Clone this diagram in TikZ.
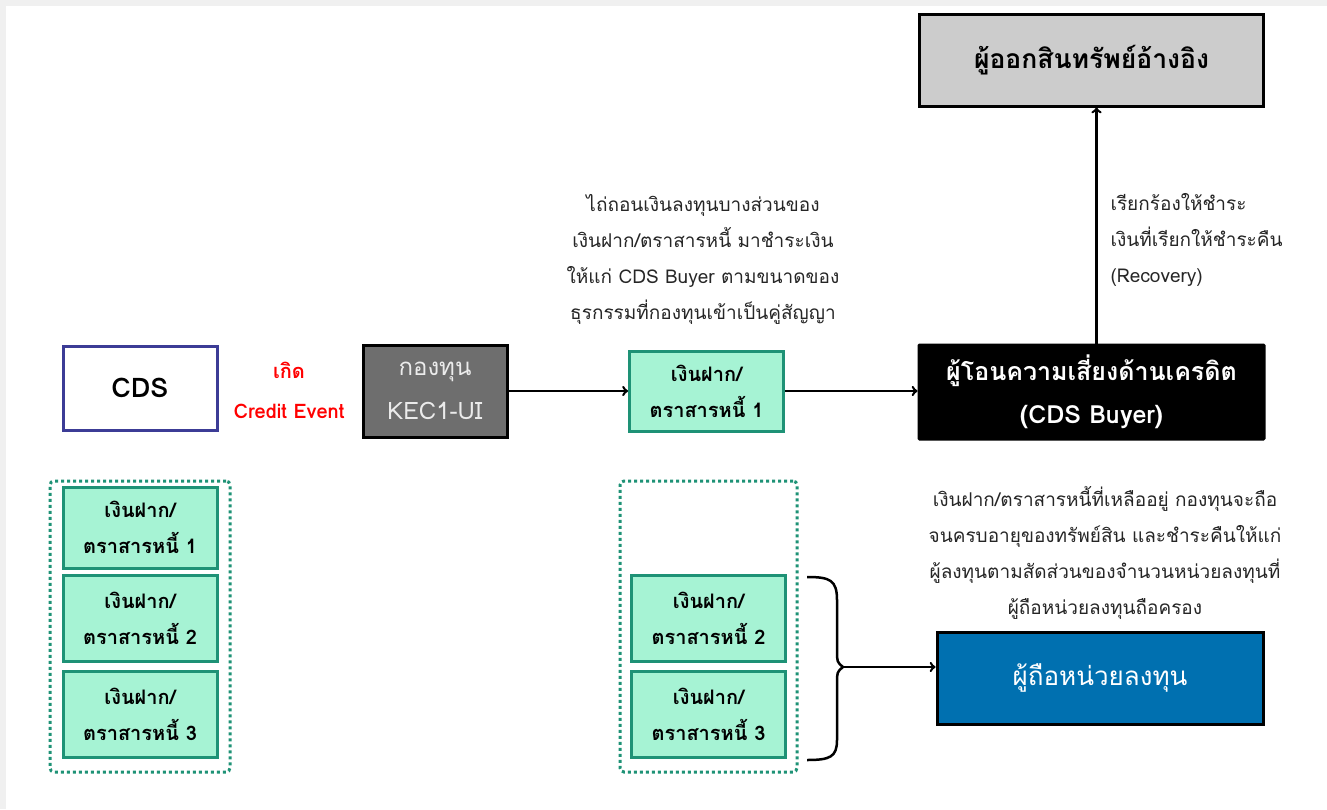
\documentclass[tikz,border=0pt]{standalone}
\usepackage{fontspec}
\newfontfamily\thaifont[Script=Thai]{Loma}
\definecolor{mint}{RGB}{166,243,212}
\definecolor{teal}{RGB}{30,146,118}
\definecolor{cdsblue}{RGB}{60,60,150}
\definecolor{fundgray}{RGB}{110,110,110}
\definecolor{unitblue}{RGB}{0,112,176}
\tikzset{
  depbox/.style={draw=teal, fill=mint, line width=3pt, minimum width=154pt,
    minimum height=86pt, align=center,
    font=\thaifont\bfseries\fontsize{20}{36}\selectfont},
  groupbox/.style={draw=teal, line width=3pt, dash pattern=on 3pt off 3pt,
    rounded corners=4pt},
  partybox/.style={draw=black, line width=3pt, align=center},
  note/.style={align=center, text=black!85,
    font=\thaifont\fontsize{19}{36}\selectfont},
  flow/.style={->, line width=2.5pt},
}
\begin{document}
\begin{tikzpicture}[x=1pt, y=-1pt]
  \useasboundingbox (0,0) rectangle (1327,809);
  % Frame
  \fill[black!6] (0,0) rectangle (1327,809);
  \fill[white] (6,6) rectangle (1327,809);

  % Left column
  \node[draw=cdsblue, line width=3pt, fill=white, minimum width=154pt, minimum height=84pt,
    font=\thaifont\bfseries\fontsize{27}{30}\selectfont] (cds) at (140,388) {CDS};
  \node[align=center, text=red, font=\thaifont\bfseries\fontsize{20}{40}\selectfont]
    (event) at (289,390) {เกิด\\Credit Event};
  \node[groupbox, minimum width=180pt, minimum height=291pt] (grpL) at (140,626.5) {};
  \node[depbox, minimum height=81pt] (dL1) at (140,527.5) {เงินฝาก/\\ตราสารหนี้ 1};
  \node[depbox] (dL2) at (140,618.5) {เงินฝาก/\\ตราสารหนี้ 2};
  \node[depbox] (dL3) at (140,714) {เงินฝาก/\\ตราสารหนี้ 3};

  % Fund
  \node[partybox, fill=fundgray, text=black!8, minimum width=144pt, minimum height=92pt,
    font=\thaifont\fontsize{24}{44}\selectfont] (fund) at (435,391) {กองทุน\\KEC1-UI};

  % Middle column
  \node[note] (payNote) at (703,259) {ไถ่ถอนเงินลงทุนบางส่วนของ\\เงินฝาก/ตราสารหนี้ มาชำระเงิน\\ให้แก่ CDS Buyer ตามขนาดของ\\ธุรกรรมที่กองทุนเข้าเป็นคู่สัญญา};
  \node[depbox, minimum height=80pt] (dM1) at (706.5,391) {เงินฝาก/\\ตราสารหนี้ 1};
  \node[groupbox, minimum width=177pt, minimum height=291pt] (grpM) at (708.5,626.5) {};
  \node[depbox] (dM2) at (708.5,618.5) {เงินฝาก/\\ตราสารหนี้ 2};
  \node[depbox] (dM3) at (708.5,714) {เงินฝาก/\\ตราสารหนี้ 3};

  % Right column
  \node[partybox, fill=black!20, minimum width=344pt, minimum height=92pt,
    font=\thaifont\bfseries\fontsize{26.5}{32}\selectfont] (issuer) at (1091.5,60) {ผู้ออกสินทรัพย์อ้างอิง};
  \node[draw=black, fill=black, text=white, line width=2pt, align=center,
    minimum width=346pt, minimum height=95pt, rounded corners=1pt,
    font=\thaifont\bfseries\fontsize{25}{43}\selectfont] (buyer) at (1091.5,392) {ผู้โอนความเสี่ยงด้านเครดิต\\(CDS Buyer)};
  \node[note, align=left, anchor=west, font=\thaifont\fontsize{19}{36}\selectfont]
    (claimNote) at (1107,240) {เรียกร้องให้ชำระ\\เงินที่เรียกให้ชำระคืน\\(Recovery)};
  \node[note] (holdNote) at (1105,553) {เงินฝาก/ตราสารหนี้ที่เหลืออยู่ กองทุนจะถือ\\จนครบอายุของทรัพย์สิน และชำระคืนให้แก่\\ผู้ลงทุนตามสัดส่วนของจำนวนหน่วยลงทุนที่\\ผู้ถือหน่วยลงทุนถือครอง};
  \node[partybox, fill=unitblue, text=white, minimum width=326pt, minimum height=92pt,
    font=\thaifont\fontsize{26}{30}\selectfont] (holder) at (1100,678) {ผู้ถือหน่วยลงทุน};

  % Flows
  \draw[flow] (fund.east) -- (dM1.west);
  \draw[flow] (dM1.east) -- (dM1.east -| buyer.west);
  \coordinate (claimFoot) at ([xshift=5pt]buyer.north);
  \draw[flow] (claimFoot) -- (claimFoot |- issuer.south);

  % Brace
  \coordinate (braceTip) at (843,667);
  \draw[line width=2.5pt] (807,577) .. controls (830,577) and (837,580) .. (837,600)
    -- (837,650) .. controls (837,662) .. (braceTip)
    .. controls (837,672) .. (837,684) -- (837,740)
    .. controls (837,757) and (830,760) .. (807,760);
  \draw[flow] (braceTip) -- (braceTip -| holder.west);
\end{tikzpicture}
\end{document}
